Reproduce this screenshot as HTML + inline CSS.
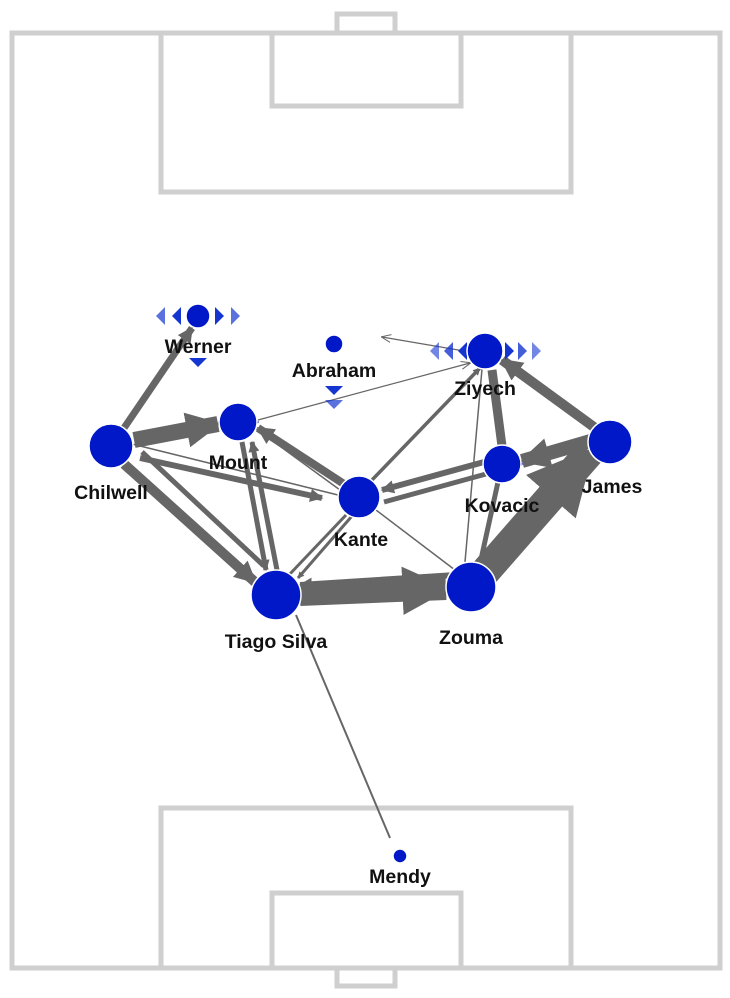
<!DOCTYPE html>
<html><head><meta charset="utf-8"><style>
html,body{margin:0;padding:0;background:#fff;}
svg{display:block}
text{font-family:"Liberation Sans",Arial,sans-serif;font-weight:bold;font-size:19.5px;fill:#111;text-anchor:middle}
</style></head><body>
<svg width="730" height="998" viewBox="0 0 730 998" xmlns="http://www.w3.org/2000/svg">
<defs>
<marker id="a" viewBox="0 0 10 10" refX="9" refY="5" markerWidth="2.2" markerHeight="2.6" orient="auto" markerUnits="strokeWidth">
<path d="M0,0 L10,5 L0,10 z" fill="#666"/></marker>
<marker id="b" viewBox="0 0 10 10" refX="9" refY="5" markerWidth="3.2" markerHeight="3.6" orient="auto" markerUnits="strokeWidth">
<path d="M0,0 L10,5 L0,10 z" fill="#666"/></marker>
<marker id="t" viewBox="0 0 10 10" refX="9" refY="5" markerWidth="10" markerHeight="10" orient="auto" markerUnits="userSpaceOnUse">
<path d="M0,1 L10,5 L0,9" fill="none" stroke="#666" stroke-width="1"/></marker>
</defs>
<g fill="none" stroke="#cfcfcf" stroke-width="5">
<rect x="12" y="33" width="708" height="935"/>
<rect x="337" y="14" width="58" height="19"/>
<rect x="161" y="33" width="410" height="159"/>
<rect x="272" y="33" width="189" height="73"/>
<rect x="161" y="808" width="410" height="160"/>
<rect x="272" y="893" width="189" height="75"/>
<rect x="337" y="968" width="58" height="18"/>
</g>
<g stroke="#666" stroke-linecap="butt" fill="none">
<line x1="390" y1="838" x2="296" y2="615" stroke-width="2"/>
<line x1="258" y1="420" x2="470" y2="363" stroke-width="1.2" marker-end="url(#t)"/>
<line x1="470" y1="352" x2="382" y2="337" stroke-width="1.2" marker-end="url(#t)"/>
<line x1="482" y1="369" x2="465" y2="562" stroke-width="1.5"/>
<line x1="500" y1="360" x2="590" y2="425" stroke-width="1.5"/>
<line x1="376" y1="510" x2="455" y2="570" stroke-width="1.5"/>
<line x1="132" y1="444" x2="338" y2="495" stroke-width="1.5"/>
<line x1="255" y1="428" x2="340" y2="490" stroke-width="1.5"/>
<line x1="300" y1="595" x2="446" y2="589" stroke-width="22" marker-end="url(#a)"/>
<line x1="485" y1="572" x2="590" y2="452" stroke-width="30" marker-end="url(#a)"/>
<line x1="594" y1="440" x2="522" y2="461" stroke-width="14" marker-end="url(#a)"/>
<line x1="134" y1="440" x2="218" y2="424" stroke-width="16" marker-end="url(#a)"/>
<line x1="124" y1="464" x2="255" y2="582" stroke-width="10" marker-end="url(#a)"/>
<line x1="142" y1="452" x2="264" y2="566" stroke-width="5"/>
<line x1="242" y1="442" x2="266" y2="570" stroke-width="5" marker-end="url(#a)"/>
<line x1="277" y1="570" x2="252" y2="442" stroke-width="5" marker-end="url(#a)"/>
<line x1="124" y1="428" x2="192" y2="328" stroke-width="7" marker-end="url(#a)"/>
<line x1="344" y1="484" x2="258" y2="428" stroke-width="8" marker-end="url(#a)"/>
<line x1="140" y1="458" x2="322" y2="498" stroke-width="6" marker-end="url(#a)"/>
<line x1="598" y1="430" x2="502" y2="360" stroke-width="10" marker-end="url(#a)"/>
<line x1="502" y1="446" x2="492" y2="370" stroke-width="9"/>
<line x1="484" y1="462" x2="382" y2="490" stroke-width="6" marker-end="url(#a)"/>
<line x1="384" y1="502" x2="486" y2="474" stroke-width="5"/>
<line x1="480" y1="564" x2="498" y2="482" stroke-width="5"/>
<line x1="288" y1="576" x2="346" y2="515" stroke-width="3"/>
<line x1="352" y1="516" x2="298" y2="578" stroke-width="3" marker-end="url(#a)"/>
<line x1="456" y1="575" x2="300" y2="585" stroke-width="6" marker-end="url(#a)"/>
<line x1="372" y1="480" x2="480" y2="368" stroke-width="3.5" marker-end="url(#a)"/>
</g>
<g fill="#1535d0">
<polygon points="165,307 165,325 156,316" opacity="0.7"/>
<polygon points="181,307 181,325 172,316"/>
<polygon points="215,307 215,325 224,316"/>
<polygon points="231,307 231,325 240,316" opacity="0.7"/>
<polygon points="189,358 207,358 198,367"/>
<polygon points="325,386 343,386 334,395"/>
<polygon points="325,400 343,400 334,409" opacity="0.7"/>
<polygon points="439,342 439,360 430,351" opacity="0.6"/>
<polygon points="453,342 453,360 444,351" opacity="0.8"/>
<polygon points="467,342 467,360 458,351"/>
<polygon points="505,342 505,360 514,351"/>
<polygon points="518,342 518,360 527,351" opacity="0.8"/>
<polygon points="532,342 532,360 541,351" opacity="0.6"/>
<polygon points="489,456 489,472 482,464"/>
<polygon points="516,456 516,472 523,464"/>
<polygon points="225,414 225,430 218,422"/>
<polygon points="252,414 252,430 259,422"/>
</g>
<g fill="#0018c8" stroke="#fff" stroke-width="1.5">
<circle cx="198" cy="316" r="12"/>
<circle cx="334" cy="344" r="9"/>
<circle cx="485" cy="351" r="18"/>
<circle cx="238" cy="422" r="19"/>
<circle cx="111" cy="446" r="22"/>
<circle cx="610" cy="442" r="22"/>
<circle cx="502" cy="464" r="19"/>
<circle cx="359" cy="497" r="21"/>
<circle cx="276" cy="595" r="25"/>
<circle cx="471" cy="587" r="25"/>
<circle cx="400" cy="856" r="7"/>
</g>
<text x="198" y="353">Werner</text>
<text x="334" y="377">Abraham</text>
<text x="485" y="395">Ziyech</text>
<text x="238" y="469">Mount</text>
<text x="111" y="499">Chilwell</text>
<text x="612" y="493">James</text>
<text x="502" y="512">Kovacic</text>
<text x="361" y="546">Kante</text>
<text x="276" y="648">Tiago Silva</text>
<text x="471" y="644">Zouma</text>
<text x="400" y="883">Mendy</text>
</svg>
</body></html>
